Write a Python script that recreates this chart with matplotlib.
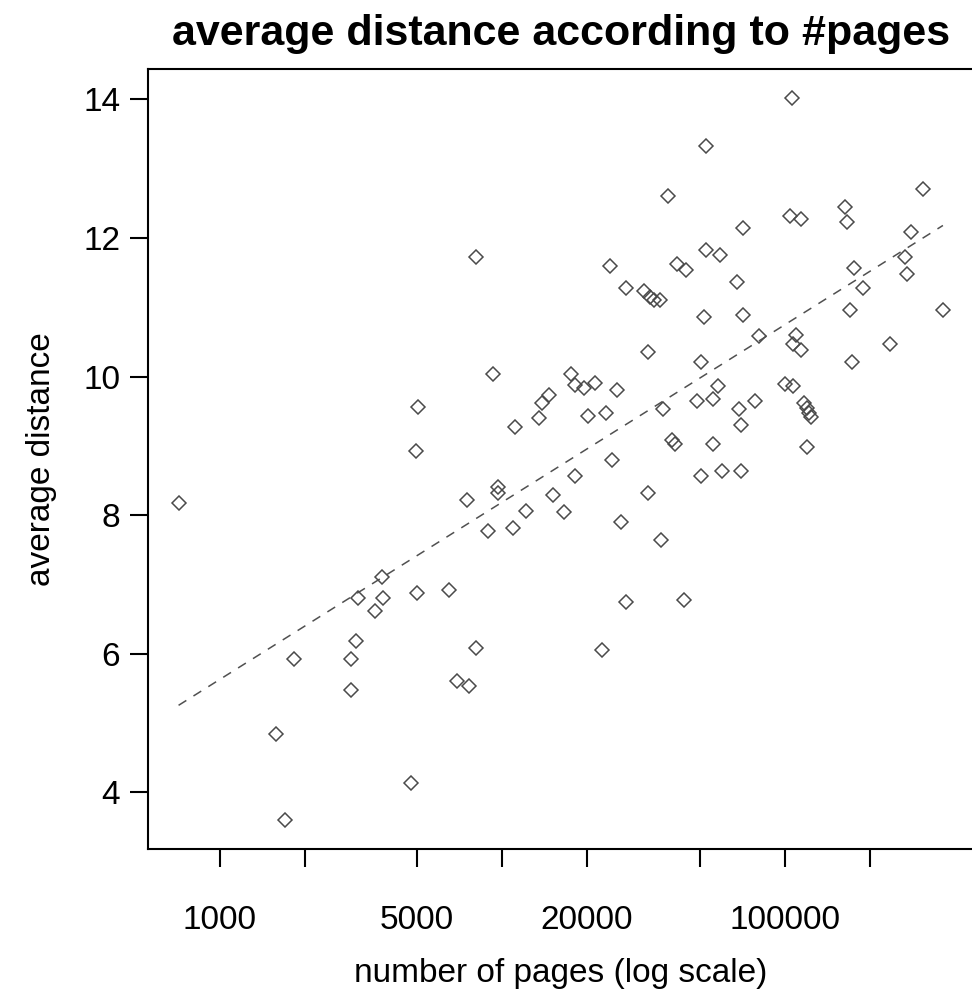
import matplotlib
matplotlib.use("Agg")
import matplotlib.pyplot as plt
import numpy as np

plt.rcParams['font.family'] = ['Liberation Sans', 'DejaVu Sans']

# number of pages per site
pages = [
    716, 5033, 4941, 3088, 3754, 3776, 3557, 5001, 3043, 1828,
    2916, 2916, 1582, 1699, 4756, 8057, 6941, 7630, 22500, 27430,
    43900, 32930, 50710, 9307, 17480, 18100, 19480, 21300, 25570, 14650,
    13800, 13500, 20190, 23300, 11100, 37210, 48810, 55600, 58060, 24550,
    40040, 40900, 55600, 18100, 50710, 59840, 9640, 9640, 7487, 15130,
    12180, 16550, 32740, 8937, 10920, 26330, 36600, 6466, 52530, 38640,
    8057, 24160, 27430, 31690, 33370, 34450, 36250, 41470, 44620, 52530,
    59110, 51800, 106500, 308800, 163500, 166700, 104400, 114600, 71420, 280900,
    267500, 176000, 271900, 189300, 67620, 71420, 169900, 363500, 81100, 110000,
    106700, 113900, 235300, 173100, 78310, 100400, 107200, 68900, 70260, 117200,
    119600, 121900, 123600, 120300, 70260,
]

# average distance for each site
avg_dist = [
    8.18, 9.56, 8.92, 6.81, 7.11, 6.81, 6.62, 6.88, 6.18, 5.92,
    5.92, 5.48, 4.84, 3.60, 4.14, 6.08, 5.61, 5.54, 6.05, 6.75,
    6.78, 10.35, 10.21, 10.04, 10.04, 9.88, 9.84, 9.91, 9.81, 9.73,
    9.62, 9.40, 9.43, 9.47, 9.27, 9.53, 9.65, 9.68, 9.87, 8.80,
    9.08, 9.02, 9.02, 8.57, 8.57, 8.63, 8.41, 8.32, 8.22, 8.29,
    8.06, 8.05, 8.32, 7.77, 7.81, 7.90, 7.64, 6.92, 13.32, 12.61,
    11.72, 11.60, 11.28, 11.24, 11.15, 11.10, 11.10, 11.63, 11.53, 11.82,
    11.76, 10.86, 14.02, 12.71, 12.44, 12.23, 12.31, 12.27, 12.14, 12.08,
    11.72, 11.56, 11.48, 11.28, 11.37, 10.89, 10.96, 10.96, 10.58, 10.60,
    10.47, 10.38, 10.47, 10.21, 9.65, 9.89, 9.87, 9.53, 9.30, 9.62,
    9.54, 9.47, 9.41, 8.98, 8.63,
]

x_ticks = [1000, 2000, 5000, 10000, 20000, 50000, 100000, 200000]
x_labels = ['1000', '', '5000', '', '20000', '', '100000', '']
y_ticks = [4, 6, 8, 10, 12, 14]

pages = np.array(pages, dtype=float)
avg_dist = np.array(avg_dist)

fig = plt.figure(figsize=(9.72, 9.94), dpi=100)
ax = fig.add_axes([148 / 972, 1 - 849 / 994, (973.5 - 148) / 972, (849 - 69) / 994])

ax.plot(pages, avg_dist, linestyle='none', marker='D', markersize=7.6,
        markerfacecolor='none', markeredgecolor='#4a4a4a', markeredgewidth=1.1)

# linear fit of distance against log10(pages)
lx = np.log10(pages)
slope, intercept = np.polyfit(lx, avg_dist, 1)
xs = np.array([lx.min(), lx.max()])
ax.plot(10 ** xs, slope * xs + intercept, color='#505050', linewidth=1.1,
        linestyle=(0, (6, 5.5)))

ax.set_xscale('log')
# R style 4% padding
pad_x = 0.04 * (lx.max() - lx.min())
ax.set_xlim(10 ** (lx.min() - pad_x), 10 ** (lx.max() + pad_x))
pad_y = 0.04 * (avg_dist.max() - avg_dist.min())
ax.set_ylim(avg_dist.min() - pad_y, avg_dist.max() + pad_y)

ax.set_xticks(x_ticks)
ax.set_xticklabels(x_labels)
ax.xaxis.set_minor_locator(matplotlib.ticker.NullLocator())
ax.set_yticks(y_ticks)
ax.set_yticklabels([str(v) for v in y_ticks])

ax.tick_params(axis='both', direction='out', length=13, width=1.5, labelsize=24, colors='black')
ax.tick_params(axis='x', pad=27)
ax.tick_params(axis='y', pad=7)
for s in ax.spines.values():
    s.set_linewidth(1.5)
    s.set_color('black')

ax.set_xlabel('number of pages (log scale)', fontsize=24, labelpad=16)
ax.set_ylabel('average distance', fontsize=24, labelpad=19)
ax.set_title('average distance according to #pages', fontsize=31, fontweight='bold', pad=17)

fig.savefig('out.png', dpi=100)
